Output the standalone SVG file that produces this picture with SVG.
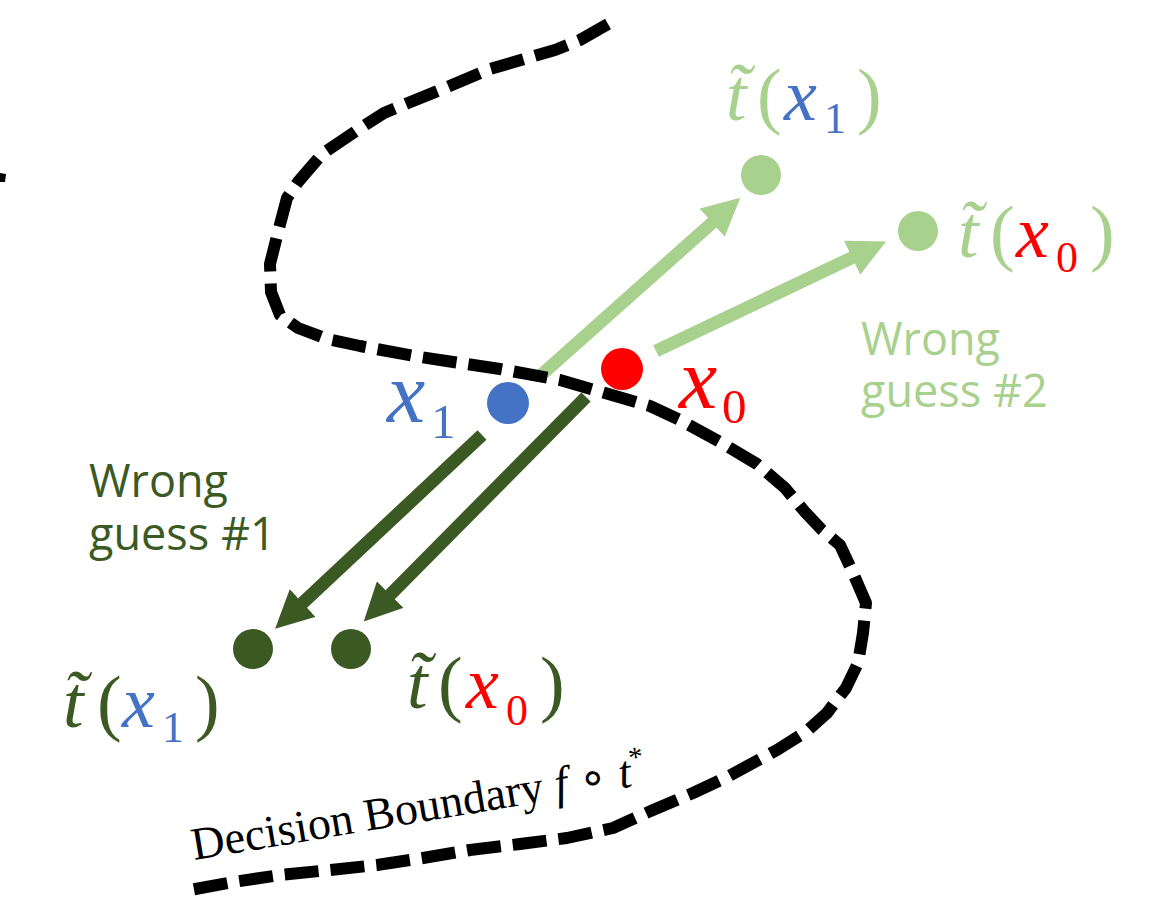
<svg xmlns="http://www.w3.org/2000/svg" width="1152" height="899" viewBox="0 0 1152 899">
<style>
.m{font-family:"Liberation Serif","Times New Roman",serif;font-size:74px}
.i{font-style:italic}
.sub{font-size:44px;font-style:normal}
.lg{fill:#A9D18E}
.dg{fill:#3B5A23}
.bl{fill:#4472C4}
.rd{fill:#FF0000}
.lbl{font-family:"Open Sans","Noto Sans",sans-serif;font-size:45px}
.boundary{fill:none;stroke:#000;stroke-width:12;stroke-dasharray:34 12;stroke-linejoin:round;stroke-linecap:butt}
.arr{fill:none;stroke-width:13;stroke-linecap:butt}
</style>
<defs>
<marker id="hl" viewBox="0 0 10 10" refX="3.5" refY="5" markerWidth="2.9" markerHeight="2.9" orient="auto" markerUnits="strokeWidth">
<path d="M0,0 L10,5 L0,10 z" fill="#A9D18E"/>
</marker>
<marker id="hd" viewBox="0 0 10 10" refX="3.5" refY="5" markerWidth="2.9" markerHeight="2.9" orient="auto" markerUnits="strokeWidth">
<path d="M0,0 L10,5 L0,10 z" fill="#3B5A23"/>
</marker>
</defs>
<rect width="1152" height="899" fill="#fff"/>

<g id="connectors">
<line class="arr" stroke="#A9D18E" x1="540" y1="376" x2="722" y2="214" marker-end="url(#hl)"/>
<line class="arr" stroke="#A9D18E" x1="656" y1="351" x2="864" y2="252" marker-end="url(#hl)"/>
<line class="arr" stroke="#3B5A23" x1="482" y1="435" x2="293" y2="612" marker-end="url(#hd)"/>
<line class="arr" stroke="#3B5A23" x1="586" y1="397" x2="381" y2="604" marker-end="url(#hd)"/>
</g>

<g id="decision-boundary">
<path class="boundary" d="M608,24 L580,40 L555,50 L531,57 L490,69 L445,88 L408,103 L384,113 L359,129 L322,154 L298,182 L287,198 L278,232 L270,264 L271,292 L280,315 L298,328 L327,339 L360,346 L420,357 L500,369 L560,380 L605,393 L650,406 L680,420 L720,442 L757,464 L785,488 L805,512 L822,530 L840,545 L853,573 L866,603 L863,633 L858,663 L846,688 L827,713 L807,731 L777,750 L727,777 L693,793 L653,810 L613,828 L567,838 L520,844 L470,850 L423,858 L377,865 L330,870 L280,875 L233,882 L190,890"/>
<path d="M0,173 L6,174 L5,182 L0,182 z" fill="#000"/>
<text font-family="'Liberation Serif','Times New Roman',serif" font-size="46" fill="#000" transform="rotate(-9.5 194 860)" x="194" y="860">Decision Boundary <tspan font-style="italic">f</tspan> ∘ <tspan font-style="italic">t</tspan><tspan font-size="29" dy="-19">*</tspan></text>
</g>

<g id="node-x1">
<circle cx="508" cy="403" r="21" fill="#4472C4"/>
<text class="m bl"><tspan class="i" x="387" y="422" font-size="86">x</tspan><tspan x="431" y="438" font-size="49">1</tspan></text>
</g>

<g id="node-x0">
<circle cx="622" cy="369" r="21" fill="#FF0000"/>
<text class="m rd"><tspan class="i" x="679" y="408" font-size="86">x</tspan><tspan x="722" y="423" font-size="49">0</tspan></text>
</g>

<g id="node-guess2-x1">
<circle cx="761" cy="175" r="20" fill="#A9D18E"/>
<text class="m"><tspan class="i lg" x="726" y="120">t&#x303;</tspan><tspan class="lg" x="757" y="120">(</tspan><tspan class="i bl" x="784" y="120">x</tspan><tspan class="sub bl" x="824" y="133">1</tspan><tspan class="lg" x="857" y="120">)</tspan></text>
</g>

<g id="node-guess2-x0">
<circle cx="918" cy="231" r="20" fill="#A9D18E"/>
<text class="m"><tspan class="i lg" x="958" y="257">t&#x303;</tspan><tspan class="lg" x="990" y="257">(</tspan><tspan class="i rd" x="1016" y="257">x</tspan><tspan class="sub rd" x="1056" y="272">0</tspan><tspan class="lg" x="1090" y="257">)</tspan></text>
</g>

<g id="node-guess1-x1">
<circle cx="253" cy="649" r="20" fill="#3B5A23"/>
<text class="m"><tspan class="i dg" x="63" y="727">t&#x303;</tspan><tspan class="dg" x="97" y="727">(</tspan><tspan class="i bl" x="122" y="727">x</tspan><tspan class="sub bl" x="162" y="742">1</tspan><tspan class="dg" x="195" y="727">)</tspan></text>
</g>

<g id="node-guess1-x0">
<circle cx="351" cy="649" r="20" fill="#3B5A23"/>
<text class="m"><tspan class="i dg" x="407" y="708">t&#x303;</tspan><tspan class="dg" x="438" y="708">(</tspan><tspan class="i rd" x="466" y="708">x</tspan><tspan class="sub rd" x="506" y="725">0</tspan><tspan class="dg" x="540" y="708">)</tspan></text>
</g>

<g id="label-guess2">
<text class="lbl lg"><tspan x="861" y="355">Wrong</tspan><tspan x="861" y="407">guess #2</tspan></text>
</g>

<g id="label-guess1">
<text class="lbl dg"><tspan x="89" y="497">Wrong</tspan><tspan x="89" y="550">guess #1</tspan></text>
</g>
</svg>
